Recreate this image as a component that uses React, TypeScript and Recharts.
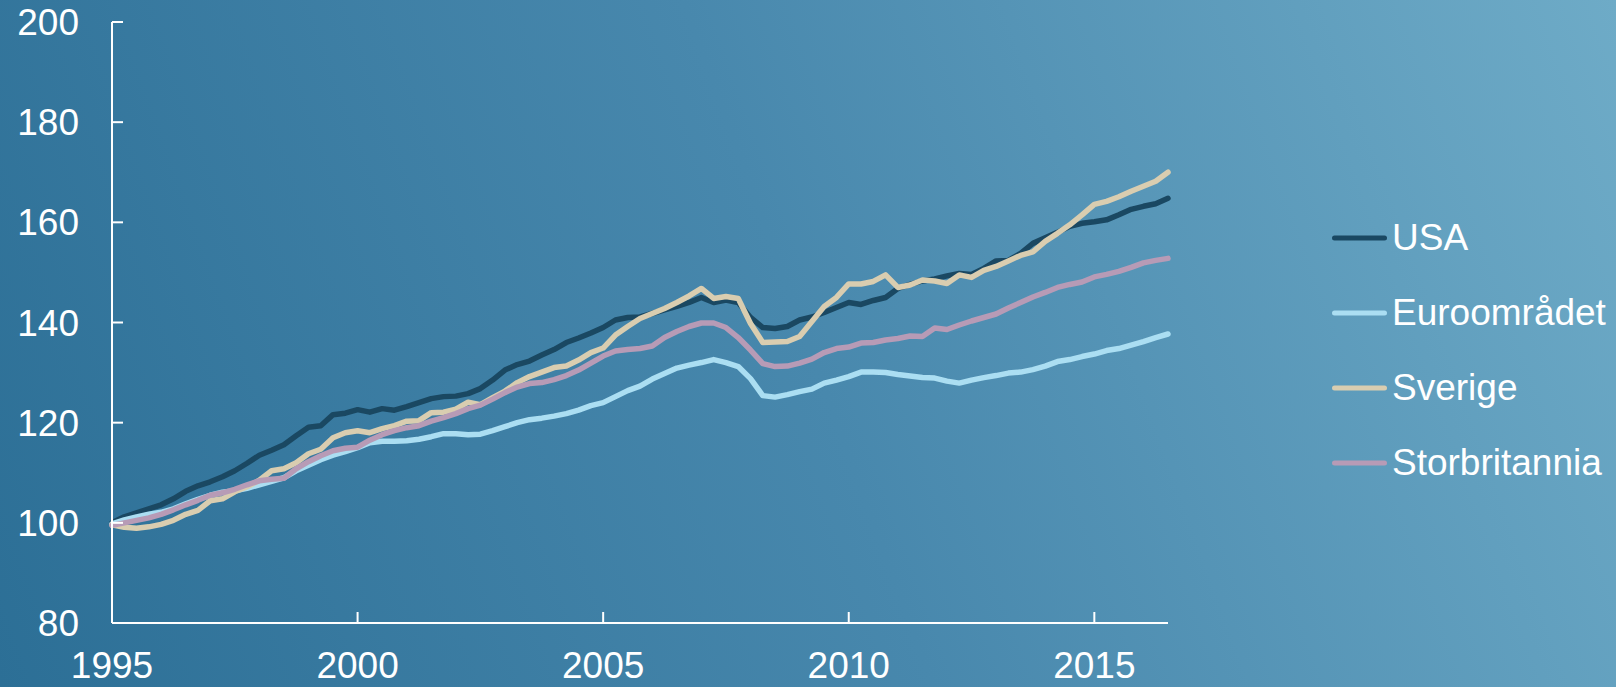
import { Legend, Line, LineChart, XAxis, YAxis } from 'recharts'

// Quarterly index, 1995 = 100 (1995K1 .. 2016K3)
const startYear = 1995
const usa = [
  100, 101.2, 102.0, 102.8, 103.6, 104.8, 106.3, 107.4, 108.2, 109.2, 110.4, 111.9,
  113.5, 114.5, 115.6, 117.4, 119.1, 119.4, 121.6, 121.9, 122.6, 122.1, 122.8, 122.5,
  123.2, 124.0, 124.8, 125.2, 125.3, 125.8, 126.8, 128.5, 130.5, 131.6, 132.3, 133.5,
  134.6, 136.0, 136.9, 137.9, 139.0, 140.5, 141.0, 141.1, 141.8, 142.5, 143.2, 144.0,
  145.0, 144.0, 144.5, 144.0, 141.0, 139.0, 138.8, 139.2, 140.5, 141.1, 142.0, 143.0,
  144.0, 143.6, 144.4, 145.0, 146.8, 147.6, 148.3, 148.7, 149.3, 149.8, 149.6, 150.8,
  152.3, 152.4, 153.8, 155.8, 156.9, 158.0, 159.2, 159.8, 160.1, 160.5, 161.5, 162.6,
  163.2, 163.7, 164.8,
]
const euro = [
  99.8, 100.6, 101.2, 101.7, 102.1, 102.8, 103.8, 104.7, 105.5, 106.1, 106.4, 106.9,
  107.6, 108.3, 109.0, 110.4, 111.5, 112.6, 113.5, 114.2, 115.0, 116.0, 116.3, 116.3,
  116.4, 116.7, 117.2, 117.8, 117.8, 117.6, 117.7, 118.4, 119.2, 120.0, 120.6, 120.9,
  121.3, 121.8, 122.5, 123.4, 124.0, 125.2, 126.4, 127.3, 128.7, 129.8, 130.9, 131.5,
  132.0, 132.6, 132.0, 131.2, 128.8, 125.4, 125.1, 125.6, 126.2, 126.7, 127.9, 128.5,
  129.2, 130.1, 130.1, 130.0, 129.6, 129.3, 129.0, 128.9, 128.3, 127.9, 128.5, 129.0,
  129.4, 129.9, 130.1, 130.6, 131.3, 132.2, 132.6, 133.2, 133.7, 134.4, 134.8, 135.5,
  136.2, 137.0, 137.7,
]
const sverige = [
  99.6, 99.1, 98.9, 99.2, 99.7, 100.5, 101.7, 102.5, 104.4, 104.8, 106.2, 107.2,
  108.5, 110.4, 110.8, 112.0, 113.8, 114.7, 117.0, 118.0, 118.4, 118.0, 118.8, 119.4,
  120.3, 120.4, 122.0, 122.1, 122.7, 124.1, 123.6, 125.0, 126.3, 128.0, 129.2, 130.1,
  131.0, 131.3, 132.5, 134.0, 134.9, 137.5, 139.2, 140.8, 141.8, 142.8, 144.0, 145.3,
  146.8, 144.8, 145.2, 144.8, 139.8, 136.0, 136.1, 136.2, 137.2, 140.2, 143.2, 145.0,
  147.7, 147.7, 148.2, 149.5, 147.0, 147.5, 148.5, 148.3, 147.8, 149.5, 149.0, 150.4,
  151.2, 152.3, 153.4, 154.1, 156.2, 157.8, 159.5, 161.5, 163.6, 164.2, 165.1, 166.2,
  167.2, 168.2, 170.0,
]
const storbritannia = [
  99.5, 100.0, 100.5, 101.0, 101.7, 102.6, 103.6, 104.5, 105.5, 106.0, 106.7, 107.6,
  108.4, 108.7, 108.9, 110.8, 112.2, 113.4, 114.4, 114.9, 115.1, 116.5, 117.6, 118.4,
  119.0, 119.4, 120.3, 121.0, 121.8, 122.8, 123.5, 124.7, 126.0, 127.1, 127.8, 128.0,
  128.6, 129.4, 130.5, 131.9, 133.3, 134.3, 134.6, 134.8, 135.3, 137.0, 138.2, 139.2,
  139.9, 139.9, 139.0, 137.0, 134.5, 131.8, 131.2, 131.3, 131.9, 132.7, 134.0, 134.8,
  135.1, 135.9, 136.0, 136.5, 136.8, 137.3, 137.2, 138.9, 138.6, 139.5, 140.3, 141.0,
  141.7, 142.9, 144.0, 145.1, 146.0, 147.0, 147.6, 148.1, 149.1, 149.6, 150.2, 151.0,
  151.9, 152.4, 152.8,
]

const xTicks = [1995, 2000, 2005, 2010, 2015]
const yTicks = [80, 100, 120, 140, 160, 180, 200]

const series = [
  { key: 'usa', name: 'USA', color: '#1a4862' },
  { key: 'euro', name: 'Euroområdet', color: '#abdef2' },
  { key: 'sverige', name: 'Sverige', color: '#d9cdb0' },
  { key: 'storbritannia', name: 'Storbritannia', color: '#b79bb6' },
]

const data = usa.map((v, i) => ({
  t: startYear + i / 4,
  usa: v,
  euro: euro[i],
  sverige: sverige[i],
  storbritannia: storbritannia[i],
}))

const font = '"Liberation Sans", Arial, sans-serif'
const tickStyle = { fill: '#ffffff', fontSize: 37, fontFamily: font }

function LegendBox() {
  return (
    <div style={{ fontFamily: font, fontSize: 37, color: '#ffffff' }}>
      {series.map((s) => (
        <div key={s.key} style={{ display: 'flex', alignItems: 'center', height: 75 }}>
          <svg width={58} height={8}>
            <line x1={4.5} y1={4} x2={54.5} y2={4} stroke={s.color} strokeWidth={5} strokeLinecap="round" />
          </svg>
          <span style={{ marginLeft: 4, whiteSpace: 'nowrap' }}>{s.name}</span>
        </div>
      ))}
    </div>
  )
}

export default function App() {
  return (
    <div
      style={{
        position: 'absolute',
        left: 0,
        top: 0,
        width: 1616,
        height: 687,
        background: 'linear-gradient(70deg, #2c6f96 0%, #4888ad 50%, #6eabc7 100%)',
      }}
    >
      <LineChart width={1616} height={687} data={data} margin={{ top: 22, right: 448, bottom: 0, left: 0 }}>
        <XAxis
          dataKey="t"
          type="number"
          domain={[1995, 2016.5]}
          ticks={xTicks}
          height={64}
          stroke="#ffffff"
          strokeWidth={2}
          tickSize={-11}
          tickMargin={40}
          tick={tickStyle}
          interval={0}
        />
        <YAxis
          domain={[80, 200]}
          ticks={yTicks}
          width={112}
          stroke="#ffffff"
          strokeWidth={2}
          tickSize={-11}
          tickMargin={44}
          tick={tickStyle}
          interval={0}
        />
        <Legend
          layout="vertical"
          align="center"
          verticalAlign="middle"
          wrapperStyle={{ left: 1330, top: 200, width: 286 }}
          content={() => <LegendBox />}
        />
        {series.map((s) => (
          <Line
            key={s.key}
            dataKey={s.key}
            name={s.name}
            type="linear"
            stroke={s.color}
            strokeWidth={5.5}
            strokeLinejoin="round"
            strokeLinecap="round"
            dot={false}
            isAnimationActive={false}
          />
        ))}
      </LineChart>
    </div>
  )
}
